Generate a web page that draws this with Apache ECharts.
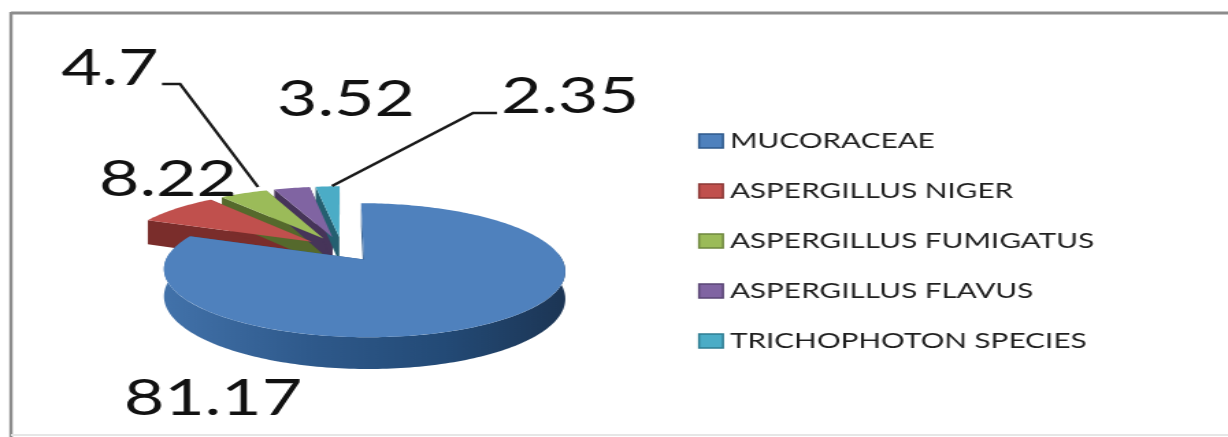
<!DOCTYPE html>
<html>
<head>
<meta charset="utf-8">
<style>
  html, body { margin: 0; padding: 0; background: #fff; overflow: hidden; }
  #chart { width: 897px; height: 437px; transform: scaleX(1.369); transform-origin: 0 0; }
</style>
<script src="https://cdn.jsdelivr.net/npm/echarts@6/dist/echarts.min.js"></script>
</head>
<body>
<div id="chart"></div>
<script>
// Fungal isolates, percentage share
const categories = ['MUCORACEAE', 'ASPERGILLUS NIGER', 'ASPERGILLUS FUMIGATUS', 'ASPERGILLUS FLAVUS', 'TRICHOPHOTON SPECIES'];
const shares = [81.17, 8.22, 4.7, 3.52, 2.35];

const topColors = ['#4f81bd', '#c0504d', '#9bbb59', '#8064a2', '#4bacc6'];
const wallColors = ['#2f5a8c', '#7a2d2b', '#55692c', '#463459', '#245f70'];
const legendBorders = ['#2f5a8c', '#8c3836', '#6f883f', '#5a4675', '#2f7d92'];

// The chart element is widened by CSS, so page x positions are divided by this.
const WIDEN = 1.369;
const px = x => x / WIDEN;

// Tilted-disc projection of the pie plane.
const CX = px(342), CY = 249, RX = px(193), RY = 62, TILT = 0.155, DEPTH = 26, EXPLODE = 0.2;
const project = (X, Y, drop) => {
  const w = 1 + TILT * Y;
  return [CX + RX * X / w, CY - RY * Y / w + (drop || 0) / w];
};

// Value label placement: centre of the text on the page, plus optional leader line.
const labelLayout = [
  { x: 213, y: 399 },
  { x: 168, y: 180 },
  { x: 110, y: 69 },
  { x: 346, y: 100 },
  { x: 570, y: 97 }
];
const leaders = [
  null, null,
  [[162, 84], [180, 84], [258, 187]],
  null,
  [[497, 113], [473, 113], [332, 186]]
];

const total = shares.reduce((a, b) => a + b, 0);
const startOf = i => shares.slice(0, i).reduce((a, b) => a + b, 0) / total * Math.PI * 2;

function renderSlice(index) {
  return function (params, api) {
    const value = api.value(0);
    const a0 = startOf(index);
    const a1 = a0 + value / total * Math.PI * 2;
    const mid = (a0 + a1) / 2;
    const ox = EXPLODE * Math.sin(mid), oy = EXPLODE * Math.cos(mid);
    const rim = (a, drop) => project(ox + Math.sin(a), oy + Math.cos(a), drop);
    const apex = drop => project(ox, oy, drop);
    const arc = (from, to, drop) => {
      const n = Math.max(2, Math.ceil((to - from) / 0.02));
      const pts = [];
      for (let k = 0; k <= n; k++) pts.push(rim(from + (to - from) * k / n, drop));
      return pts;
    };
    const children = [];
    const wall = wallColors[index];

    // cut faces
    [a0, a1].forEach(a => {
      children.push({
        type: 'polygon', z2: 1,
        shape: { points: [apex(0), rim(a, 0), rim(a, DEPTH), apex(DEPTH)] },
        style: { fill: wall }
      });
    });

    // outer wall, front half only
    const f0 = Math.max(a0, Math.PI / 2 - 0.1), f1 = Math.min(a1, Math.PI * 1.5 + 0.1);
    if (f1 > f0) {
      children.push({
        type: 'polygon', z2: 2,
        shape: { points: arc(f0, f1, 0).concat(arc(f0, f1, DEPTH).reverse()) },
        style: {
          fill: {
            type: 'linear', x: 1, y: 0, x2: 0, y2: 0,
            colorStops: [
              { offset: 0, color: '#1c3554' },
              { offset: 0.3, color: '#234a76' },
              { offset: 0.65, color: wall },
              { offset: 1, color: '#4272aa' }
            ]
          }
        }
      });
    }

    // top face
    children.push({
      type: 'polygon', z2: 3,
      shape: { points: [apex(0)].concat(arc(a0, a1, 0)) },
      style: { fill: topColors[index] }
    });

    // value label
    const lay = labelLayout[index];
    children.push({
      type: 'text', z2: 6,
      x: px(lay.x), y: lay.y,
      style: {
        text: String(value), fill: '#111',
        font: '51px Lato, sans-serif',
        align: 'center', verticalAlign: 'middle'
      }
    });

    // leader line
    if (leaders[index]) {
      children.push({
        type: 'polyline', z2: 5,
        shape: { points: leaders[index].map(p => [px(p[0]), p[1]]) },
        style: { fill: 'none', stroke: '#1a1a1a', lineWidth: 2.4 }
      });
    }
    return { type: 'group', children };
  };
}

const chart = echarts.init(document.getElementById('chart'));
chart.setOption({
  animation: false,
  backgroundColor: '#ffffff',
  legend: {
    orient: 'vertical',
    left: px(698),
    top: 129,
    padding: 0,
    itemWidth: px(24),
    itemHeight: 14,
    itemGap: 26,
    icon: 'rect',
    selectedMode: false,
    textStyle: { fontFamily: 'Lato, sans-serif', fontSize: 21.7, color: '#1f1f1f', height: 24, lineHeight: 24 },
    data: categories.map((name, i) => ({
      name, itemStyle: { color: topColors[i], borderColor: legendBorders[i], borderWidth: 1.5 }
    }))
  },
  graphic: [
    { type: 'line', shape: { x1: px(11), y1: 13, x2: 897, y2: 13 }, style: { stroke: '#8c8c8c', lineWidth: 3 } },
    { type: 'line', shape: { x1: px(11), y1: 12, x2: px(11), y2: 437 }, style: { stroke: '#8c8c8c', lineWidth: 2.4 } },
    { type: 'line', shape: { x1: px(11), y1: 435, x2: 897, y2: 435 }, style: { stroke: '#e6e6e6', lineWidth: 2 } }
  ],
  // Back slices first so the large front slice sits over them.
  series: categories.map((name, i) => ({
    type: 'custom',
    name,
    coordinateSystem: 'none',
    silent: true,
    z: i === 0 ? 4 : 3,
    itemStyle: { color: topColors[i] },
    renderItem: renderSlice(i),
    data: [[shares[i]]]
  }))
});
</script>
</body>
</html>
